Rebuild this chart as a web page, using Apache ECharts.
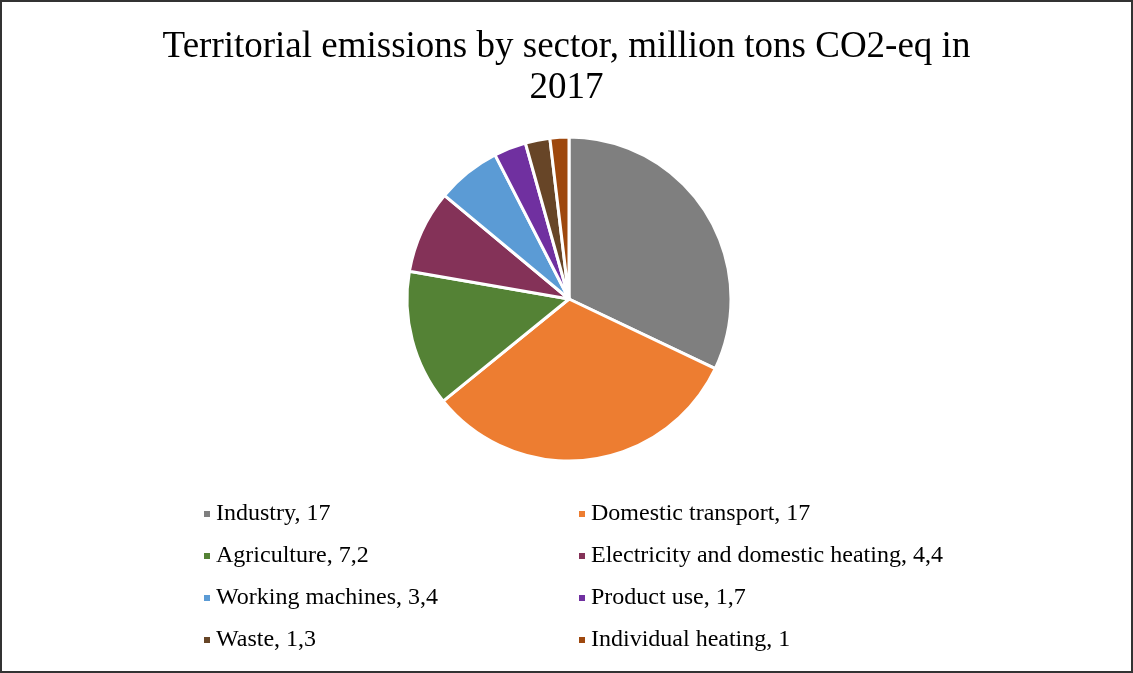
<!DOCTYPE html>
<html>
<head>
<meta charset="utf-8">
<script src="https://cdn.jsdelivr.net/npm/echarts@6/dist/echarts.min.js"></script>
<style>
html,body{margin:0;padding:0;background:#fff;}
#frame{position:absolute;left:0;top:0;width:1133px;height:673px;box-sizing:border-box;border:2px solid #333;}
#chart{position:absolute;left:0;top:0;width:1133px;height:673px;}
</style>
</head>
<body>
<div id="chart"></div>
<div id="frame"></div>
<script>
var titleText = 'Territorial emissions by sector, million tons CO2-eq in\n2017';
var categories = ['Industry', 'Domestic transport', 'Agriculture', 'Electricity and domestic heating', 'Working machines', 'Product use', 'Waste', 'Individual heating'];
var values = [17, 17, 7.2, 4.4, 3.4, 1.7, 1.3, 1];
var colors = ['#7F7F7F', '#ED7D31', '#548235', '#843258', '#5B9BD5', '#7030A0', '#674527', '#9E480E'];
var leftColumn = ['Industry', 'Agriculture', 'Working machines', 'Waste'];
var rightColumn = ['Domestic transport', 'Electricity and domestic heating', 'Product use', 'Individual heating'];

var valueByName = {};
categories.forEach(function (c, i) { valueByName[c] = values[i]; });
function fmt(name) { return name + ', ' + String(valueByName[name]).replace('.', ','); }

var font = '"Liberation Serif", "Times New Roman", serif';
var legendBase = {
  orient: 'vertical',
  top: 497,
  itemWidth: 8,
  itemHeight: 8,
  itemGap: 18,
  icon: 'rect',
  formatter: fmt,
  selectedMode: false,
  textStyle: { fontFamily: font, fontSize: 24, color: '#000', lineHeight: 24, padding: [0, 0, 0, 0] }
};

var chart = echarts.init(document.getElementById('chart'), null, { renderer: 'canvas' });
chart.setOption({
  animation: false,
  color: colors,
  title: {
    text: titleText,
    left: 'center',
    top: 22,
    textStyle: { fontFamily: font, fontSize: 37, fontWeight: 'normal', color: '#000', lineHeight: 41 }
  },
  legend: [
    Object.assign({}, legendBase, { left: 197, data: leftColumn }),
    Object.assign({}, legendBase, { left: 572, data: rightColumn })
  ],
  series: [{
    type: 'pie',
    center: [569, 299],
    radius: 162,
    startAngle: 90,
    clockwise: true,
    label: { show: false },
    labelLine: { show: false },
    itemStyle: { borderColor: '#fff', borderWidth: 3 },
    data: categories.map(function (c, i) { return { name: c, value: values[i] }; })
  }]
});
</script>
</body>
</html>
